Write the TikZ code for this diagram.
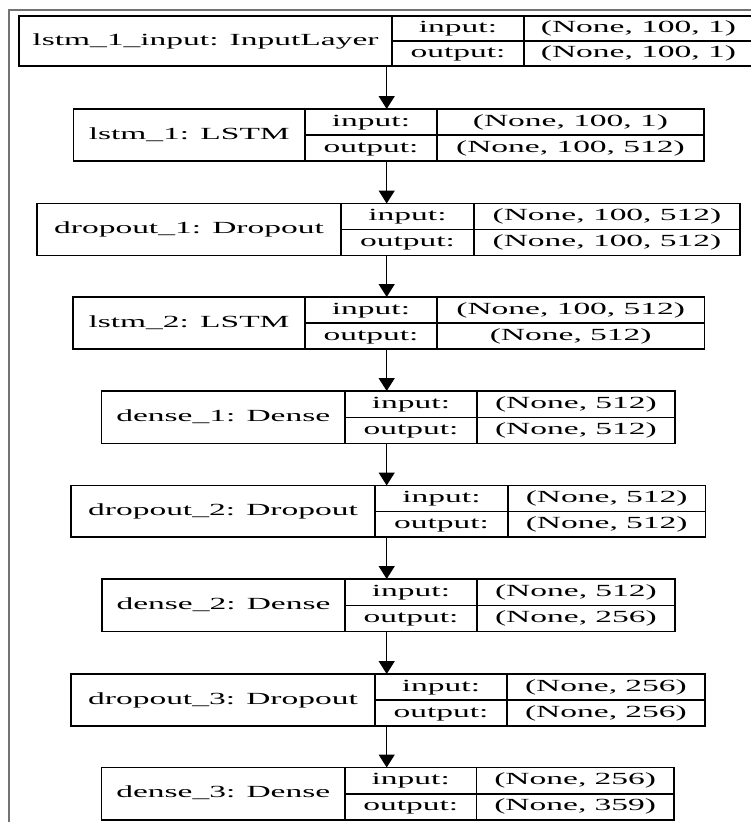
\documentclass[tikz,border=0pt]{standalone}
\usepackage{fontspec}
\setmainfont{Liberation Serif}[FakeStretch=1.97]
\usetikzlibrary{arrows.meta}
\tikzset{
  x=1pt, y=-1pt,
  layerbox/.style={draw=black, line width=1.5pt, inner sep=0pt, outer sep=0pt, anchor=north west},
  cellbox/.style={draw=black, line width=1.5pt, inner sep=0pt, outer sep=0pt, anchor=north west,
    font=\fontsize{17}{17}\selectfont, text height=11.8pt, text depth=3.8pt, align=center},
  flow/.style={draw=black, line width=1.5pt, -{Triangle[length=13pt,width=16pt]}},
  frameline/.style={draw=black!55, line width=1.2pt}
}
\begin{document}
\begin{tikzpicture}
\useasboundingbox (0,0) rectangle (751,822);
\draw[frameline] (9,822) -- (9,10) -- (751,10);
\coordinate (ax) at (386.7,0);
\foreach \id/\L/\T/\B/\da/\db/\R/\title/\vin/\vout in {
  b1/19/16/66/392/524/753/{lstm\_1\_input: InputLayer}/{(None, 100, 1)}/{(None, 100, 1)},
  b2/73.5/109/161/305/437/704/{lstm\_1: LSTM}/{(None, 100, 1)}/{(None, 100, 512)},
  b3/37/203.5/255.5/341/474/740/{dropout\_1: Dropout}/{(None, 100, 512)}/{(None, 100, 512)},
  b4/73/297/349/305/437/704.5/{lstm\_2: LSTM}/{(None, 100, 512)}/{(None, 512)},
  b5/101.5/391/443.5/345/477/675/{dense\_1: Dense}/{(None, 512)}/{(None, 512)},
  b6/71/485.5/537/375/508/705.5/{dropout\_2: Dropout}/{(None, 512)}/{(None, 512)},
  b7/102/579/631.5/345/477/675/{dense\_2: Dense}/{(None, 512)}/{(None, 256)},
  b8/71/674/726/375/507/705/{dropout\_3: Dropout}/{(None, 256)}/{(None, 256)},
  b9/101.5/767.5/820/345/476.5/674/{dense\_3: Dense}/{(None, 256)}/{(None, 359)}}{
  \pgfmathsetmacro\hh{(\B-\T)/2}
  \pgfmathsetmacro\mm{\T+\hh}
  \node[layerbox, minimum width={\R-\L}, minimum height={\B-\T}] (\id) at (\L,\T) {};
  \node[cellbox, minimum width={\da-\L}, minimum height={\B-\T}] (\id-n) at (\L,\T) {\title};
  \node[cellbox, minimum width={\db-\da}, minimum height={\hh}] (\id-il) at (\da,\T) {input:};
  \node[cellbox, minimum width={\db-\da}, minimum height={\hh}] (\id-ol) at (\da,\mm) {output:};
  \node[cellbox, minimum width={\R-\db}, minimum height={\hh}] (\id-iv) at (\db,\T) {\vin};
  \node[cellbox, minimum width={\R-\db}, minimum height={\hh}] (\id-ov) at (\db,\mm) {\vout};
}
\foreach \i/\j in {1/2,2/3,3/4,4/5,5/6,6/7,7/8,8/9}{
  \draw[flow] (b\i.south -| ax) -- (b\j.north -| ax);
}
\end{tikzpicture}
\end{document}
